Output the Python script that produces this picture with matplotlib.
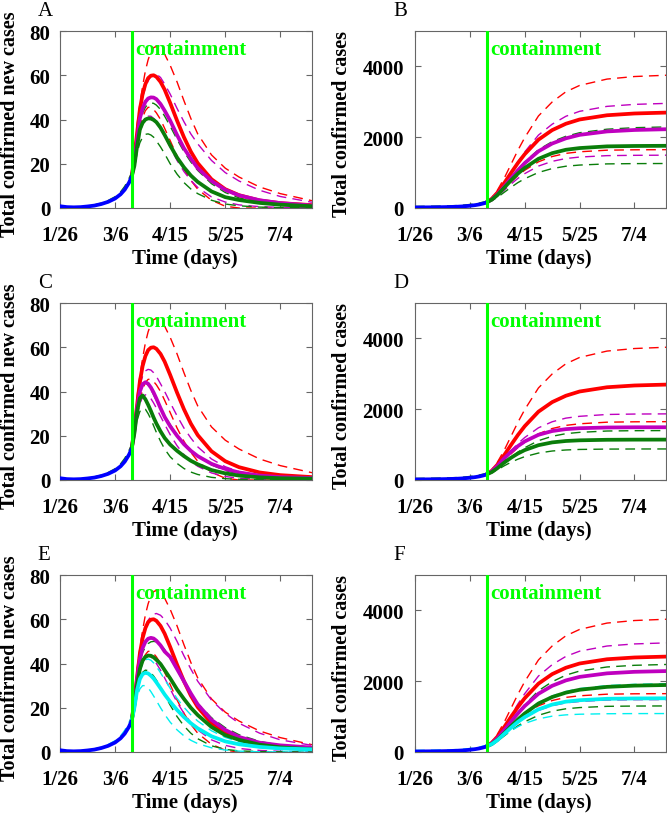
import matplotlib
matplotlib.use('Agg')
import matplotlib.pyplot as plt
import matplotlib.transforms as mtransforms

plt.rcParams['font.family'] = ['Liberation Serif', 'DejaVu Serif']
plt.rcParams['font.size'] = 15
plt.rcParams['axes.linewidth'] = 0.8

# x axis: days since 1/26
XTICKS = [0, 40, 80, 120, 160]
XTICKLABELS = ['1/26', '3/6', '4/15', '5/25', '7/4']
XMAX = 183
CONTAINMENT_DAY = 52.3

# before containment (fit to data)
T_PRE = [0, 5, 10, 15, 20, 25, 30, 35, 40, 44, 47, 50, 52]
NEW_PRE = [0.8, 0.4, 0.3, 0.4, 0.7, 1.1, 1.8, 2.8, 4.3, 6.2, 8.3, 11.3, 14]
NEW_PRE_HI = [0.6, 0.3, 0.3, 0.5, 0.9, 1.4, 2.2, 3.4, 5.1, 7.3, 9.8, 13.2, 16]
CUM_PRE = [15, 17, 19, 21, 24, 28, 35, 46, 63, 82, 102, 130, 155]
CUM_PRE_HI = [45, 47, 49, 52, 56, 61, 69, 81, 99, 119, 141, 170, 185]

# after containment, new cases
T_NEW = [52, 54, 56, 58, 60, 62, 64, 66, 68, 70, 73, 76, 80, 85, 90, 95, 100, 110, 120, 130, 145, 160, 183]
RED_NEW = [14, 23, 34, 44.5, 51.5, 56, 58.7, 59.8, 60, 59.3, 57, 53.5, 47.5, 39.5, 32, 25.5, 20.3, 13, 8.5, 5.8, 3.4, 2.2, 1.3]
RED_NEW_HI = [14, 24, 38, 47, 55, 62, 67, 70.5, 72.5, 73, 72, 69.5, 64.5, 57, 48.5, 40.5, 33.5, 24, 18, 14, 9.5, 6.5, 3.3]
RED_NEW_LO = [14, 21, 29, 36, 41, 44, 45.5, 45.5, 44.5, 43, 40, 36, 30.5, 23.5, 17.5, 12.5, 8.5, 3.5, 0.8, 0, 0, 0, 0]

A_MAG = [14, 21, 31, 40.5, 45, 48, 49.5, 50, 49.9, 49.2, 47, 44, 39.5, 33, 27, 22.3, 18, 12.2, 8.2, 5.7, 3.5, 2.2, 1.1]
A_MAG_HI = [14, 22, 33, 43, 50, 54.5, 57.5, 59.5, 60.5, 60.5, 59, 56, 51.5, 45, 39, 33.5, 29, 21.5, 16, 12.2, 8, 5.2, 2.6]
A_MAG_LO = [14, 20, 28, 34, 38, 40.5, 41.5, 41.5, 40.5, 39, 36, 32.5, 27.5, 21.5, 16.5, 12.5, 9.3, 5, 2.7, 1.4, 0.6, 0.3, 0.1]
A_GRN = [14, 19, 28, 35.5, 38.5, 40, 40.5, 40.4, 39.8, 38.8, 36.3, 33, 28.3, 22.8, 18.4, 14.7, 11.8, 7.5, 4.9, 3.6, 2.3, 1.5, 0.8]
A_GRN_HI = [14, 20, 30, 38.5, 43, 45.5, 47, 47.5, 47.3, 46.5, 44.5, 41.5, 37, 31, 25.5, 20.8, 17, 11, 7, 4.6, 2.5, 1.4, 0.6]
A_GRN_LO = [13, 18, 25, 29.5, 32, 33.3, 33.5, 33, 32, 30.3, 27.6, 24.5, 20, 15.3, 11.5, 8.6, 6.5, 3.5, 1.8, 1, 0.4, 0.2, 0.1]

C_MAG = [14, 22, 32.5, 40, 43.3, 44.2, 43.5, 41.8, 39.5, 36.8, 32.5, 28.5, 24.3, 20, 16.2, 13.2, 10.8, 7.3, 5, 3.4, 2, 1.3, 0.9]
C_MAG_HI = [14, 23, 34, 42.5, 47, 49.3, 50, 49.7, 48.5, 46.8, 43.5, 40, 35, 29, 23.5, 19, 15, 9.5, 6, 3.8, 2, 1.2, 0.6]
C_MAG_LO = [14, 21, 29, 34.5, 37.5, 38.5, 38.2, 36.8, 34.8, 32.5, 28.8, 25.2, 20.5, 15.5, 11.5, 8.5, 6.2, 3.2, 1.6, 0.8, 0.3, 0.15, 0.05]
C_GRN = [14, 21, 31, 37, 38.2, 36.5, 34, 31.2, 28.2, 25.5, 22, 19, 16, 13.2, 10.8, 8.7, 7.1, 4.5, 3, 2, 1.2, 0.8, 0.6]
C_GRN_HI = [14, 22, 33, 40, 43, 44, 43, 41, 38.5, 36, 32.5, 29, 25, 20.5, 16.5, 13.3, 10.8, 6.8, 4.3, 2.7, 1.4, 0.8, 0.3]
C_GRN_LO = [13, 20, 27, 31, 32.5, 32, 30, 27.5, 24.5, 21.5, 17.5, 14, 10.5, 7.5, 5.2, 3.6, 2.5, 1.2, 0.6, 0.3, 0.1, 0.05, 0]

E_MAG = [14, 22, 33, 42, 47, 49.8, 51.2, 51.6, 51.3, 50.3, 48.2, 45.4, 43, 37.5, 32, 26.5, 21.5, 14.5, 10, 6.8, 4.2, 3, 2]
E_MAG_HI = [14, 23, 35, 45, 52, 56.5, 59.5, 61.3, 62.3, 62.6, 61.8, 59.8, 56, 50, 43.5, 37.5, 32, 23.5, 17.5, 13, 8.5, 5.5, 3]
E_MAG_LO = [14, 21, 30, 37, 41, 43, 43.5, 43, 41.8, 40, 37, 33.5, 28.5, 22.5, 17.5, 13.3, 10, 5.5, 3, 1.6, 0.7, 0.3, 0.1]
E_GRN = [14, 21, 30.5, 37.5, 41.3, 43, 43.6, 43.5, 42.8, 41.7, 39.8, 37, 33.3, 28.3, 24, 20, 16.7, 11.3, 7.6, 5.5, 3.3, 2.1, 1.2]
E_GRN_HI = [14, 22, 32.5, 40.5, 45, 47.5, 49, 49.8, 50, 49.8, 48.5, 46.3, 42.5, 37, 31.5, 26.5, 22, 15.5, 11, 7.8, 4.8, 3, 1.6]
E_GRN_LO = [13, 20, 27.5, 33, 36, 37, 36.8, 35.8, 34.3, 32.5, 29.3, 25.8, 21.2, 16, 11.8, 8.5, 6, 2.8, 1.2, 0.5, 0.2, 0.1, 0]
E_CYN = [14, 20, 28, 33, 35.2, 35.8, 35.5, 34.5, 33.2, 31.5, 28.8, 26, 22.7, 19, 15.8, 13, 10.7, 7.1, 4.8, 3.5, 2.3, 1.6, 1.2]
E_CYN_HI = [14, 21, 30, 36.5, 40, 41.7, 42, 41.5, 40.3, 38.7, 35.8, 32.8, 28.8, 24.2, 20.2, 16.8, 14, 9.6, 6.6, 4.6, 2.8, 1.8, 1.1]
E_CYN_LO = [13, 19, 25, 28.5, 30, 30, 29, 27.3, 25.3, 23.2, 20, 17, 13.5, 10, 7.3, 5.3, 3.8, 1.9, 0.9, 0.4, 0.1, 0.05, 0]

# after containment, cumulative cases
T_CUM = [52, 56, 60, 65, 70, 75, 80, 90, 100, 110, 120, 140, 160, 183]
RED_CUM = [155, 260, 430, 700, 990, 1270, 1520, 1930, 2200, 2380, 2500, 2620, 2670, 2695]
RED_CUM_HI = [155, 284, 497, 838, 1234, 1629, 1988, 2600, 2995, 3283, 3462, 3642, 3714, 3750]
RED_CUM_LO = [155, 230, 349, 543, 737, 916, 1066, 1305, 1454, 1543, 1588, 1633, 1644, 1648]

B_MAG = [155, 240, 379, 600, 836, 1064, 1267, 1602, 1821, 1968, 2066, 2163, 2204, 2225]
B_MAG_HI = [155, 256, 421, 687, 995, 1303, 1583, 2059, 2367, 2591, 2731, 2871, 2927, 2955]
B_MAG_LO = [155, 222, 329, 503, 676, 837, 971, 1184, 1318, 1398, 1439, 1479, 1488, 1492]
B_GRN = [155, 235, 363, 572, 780, 972, 1132, 1389, 1549, 1645, 1693, 1741, 1752, 1757]
B_GRN_HI = [155, 243, 386, 614, 857, 1092, 1301, 1647, 1874, 2025, 2126, 2226, 2269, 2290]
B_GRN_LO = [155, 210, 298, 442, 585, 717, 827, 1004, 1114, 1180, 1213, 1246, 1254, 1257]

D_MAG = [155, 248, 395, 609, 796, 956, 1090, 1276, 1383, 1437, 1463, 1483, 1489, 1490]
D_MAG_HI = [155, 241, 378, 600, 823, 1029, 1200, 1474, 1645, 1748, 1799, 1851, 1863, 1868]
D_MAG_LO = [155, 224, 333, 491, 629, 747, 846, 984, 1063, 1103, 1122, 1137, 1141, 1142]
D_GRN = [155, 224, 332, 490, 628, 747, 845, 983, 1062, 1102, 1121, 1136, 1140, 1141]
D_GRN_HI = [155, 217, 316, 478, 639, 788, 912, 1111, 1235, 1309, 1346, 1384, 1393, 1396]
D_GRN_LO = [155, 206, 285, 400, 502, 588, 660, 761, 819, 848, 863, 873, 876, 877]

F_MAG = [155, 242, 385, 613, 856, 1090, 1299, 1645, 1870, 2022, 2122, 2222, 2265, 2286]
F_MAG_HI = [155, 260, 433, 711, 1033, 1355, 1648, 2145, 2467, 2701, 2848, 2994, 3053, 3082]
F_MAG_LO = [155, 221, 327, 500, 672, 831, 964, 1176, 1309, 1388, 1428, 1468, 1477, 1481]
F_GRN = [155, 226, 343, 528, 727, 918, 1088, 1369, 1553, 1677, 1758, 1840, 1875, 1892]
F_GRN_HI = [155, 238, 375, 595, 850, 1105, 1337, 1731, 1985, 2171, 2287, 2402, 2449, 2472]
F_GRN_LO = [155, 212, 304, 453, 602, 739, 854, 1037, 1152, 1221, 1255, 1290, 1298, 1301]
F_CYN = [155, 223, 332, 509, 686, 850, 986, 1204, 1340, 1422, 1463, 1503, 1513, 1517]
F_CYN_HI = [155, 228, 347, 536, 739, 934, 1108, 1395, 1583, 1709, 1792, 1876, 1911, 1929]
F_CYN_LO = [155, 220, 323, 472, 602, 714, 807, 937, 1012, 1049, 1067, 1081, 1085, 1086]

RED = '#ff0000'
MAG = '#bf00bf'
GRN = '#0a7d0a'
CYN = '#00f0f0'
BLUE = '#0000ff'
LIME = '#00ff00'
SPINE = '#666666'

panels = [
    # letter, kind, colour of the pre-containment band, scenarios
    ('A', 'new', GRN, [(RED, RED_NEW, RED_NEW_HI, RED_NEW_LO), (MAG, A_MAG, A_MAG_HI, A_MAG_LO),
                       (GRN, A_GRN, A_GRN_HI, A_GRN_LO)]),
    ('B', 'cum', GRN, [(RED, RED_CUM, RED_CUM_HI, RED_CUM_LO), (MAG, B_MAG, B_MAG_HI, B_MAG_LO),
                       (GRN, B_GRN, B_GRN_HI, B_GRN_LO)]),
    ('C', 'new', GRN, [(RED, RED_NEW, RED_NEW_HI, RED_NEW_LO), (MAG, C_MAG, C_MAG_HI, C_MAG_LO),
                       (GRN, C_GRN, C_GRN_HI, C_GRN_LO)]),
    ('D', 'cum', GRN, [(RED, RED_CUM, RED_CUM_HI, RED_CUM_LO), (MAG, D_MAG, D_MAG_HI, D_MAG_LO),
                       (GRN, D_GRN, D_GRN_HI, D_GRN_LO)]),
    ('E', 'new', CYN, [(RED, RED_NEW, RED_NEW_HI, RED_NEW_LO), (MAG, E_MAG, E_MAG_HI, E_MAG_LO),
                       (GRN, E_GRN, E_GRN_HI, E_GRN_LO), (CYN, E_CYN, E_CYN_HI, E_CYN_LO)]),
    ('F', 'cum', CYN, [(RED, RED_CUM, RED_CUM_HI, RED_CUM_LO), (MAG, F_MAG, F_MAG_HI, F_MAG_LO),
                       (GRN, F_GRN, F_GRN_HI, F_GRN_LO), (CYN, F_CYN, F_CYN_HI, F_CYN_LO)]),
]

W, H = 667, 820
fig = plt.figure(figsize=(W / 100, H / 100), dpi=100)

col_x = [(60, 252), (415, 251)]
row_top = [32, 304, 576]
ax_h = 177
DASH = (7, 4.5)

for i, (letter, kind, band_col, scen) in enumerate(panels):
    col, row = i % 2, i // 2
    x0, w = col_x[col]
    top = row_top[row]
    ax = fig.add_axes([x0 / W, 1 - (top + ax_h) / H, w / W, ax_h / H])

    if kind == 'new':
        t_post = T_NEW
        pre, pre_hi = NEW_PRE, NEW_PRE_HI
        ymax, yticks = 80, [0, 20, 40, 60, 80]
        ylabel = 'Total confirmed new cases'
    else:
        t_post = T_CUM
        pre, pre_hi = CUM_PRE, CUM_PRE_HI
        ymax, yticks = 5000, [0, 2000, 4000]
        ylabel = 'Total confirmed cases'

    # dashed bounds first, solid means on top
    ax.plot(T_PRE, pre_hi, color=band_col, lw=1.0, dashes=DASH, zorder=2)
    for color, mid, hi, lo in scen:
        ax.plot(t_post, hi, color=color, lw=1.0, dashes=DASH, zorder=2)
        ax.plot(t_post, lo, color=color, lw=1.0, dashes=DASH, zorder=2)
    for color, mid, hi, lo in scen:
        ax.plot(t_post, mid, color=color, lw=2.7, solid_capstyle='round', zorder=3)
    ax.plot(T_PRE, pre, color=BLUE, lw=2.7, solid_capstyle='round', zorder=4)

    ax.axvline(CONTAINMENT_DAY, color=LIME, lw=2.2, zorder=5)
    trans = mtransforms.blended_transform_factory(ax.transData, ax.transAxes)
    ax.text(CONTAINMENT_DAY + 2.6, 0.90, 'containment', transform=trans, color=LIME,
            fontsize=15, fontweight='bold', ha='left', va='center', zorder=6)

    ax.set_xlim(0, XMAX)
    ax.set_ylim(0, ymax)
    ax.set_xticks(XTICKS)
    ax.set_xticklabels(XTICKLABELS, fontweight='bold')
    ax.set_yticks(yticks)
    ax.set_yticklabels([str(v) for v in yticks], fontweight='bold')
    ax.tick_params(direction='in', length=4, width=0.8, color=SPINE, top=True, right=True,
                   labelsize=15)
    ax.tick_params(axis='x', pad=12.5)
    ax.tick_params(axis='y', pad=7 if col == 0 else 8)
    for s in ax.spines.values():
        s.set_color(SPINE)

    ax.set_xlabel('Time (days)', fontsize=15, fontweight='bold')
    ax.xaxis.set_label_coords(0.495, -0.225)
    ax.set_ylabel(ylabel, fontsize=14.5, fontweight='bold')
    ax.yaxis.set_label_coords(-0.160 if col == 0 else -0.25, 0.48)

    ax.text(-0.088, 1.093, letter, transform=ax.transAxes, fontsize=15,
            ha='left', va='baseline')

fig.savefig('out.png', dpi=100)
